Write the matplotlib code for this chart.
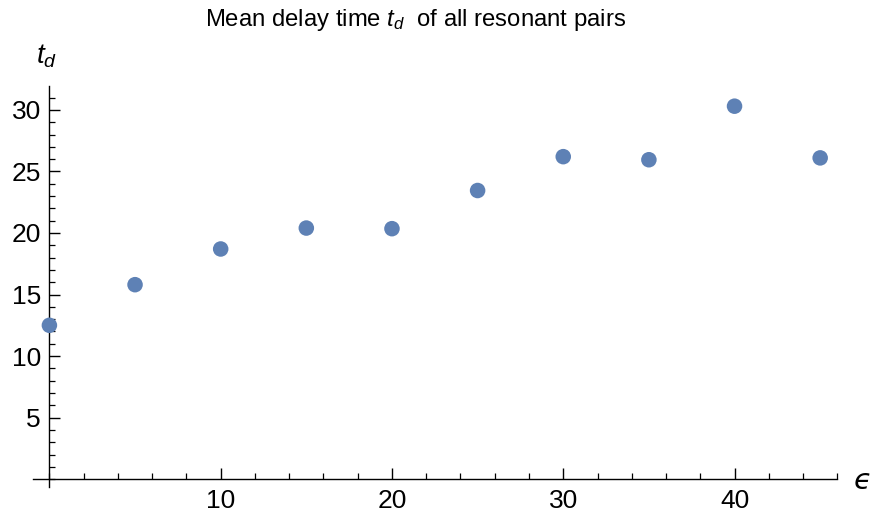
import matplotlib
matplotlib.use("Agg")
import matplotlib.pyplot as plt
from matplotlib.ticker import MultipleLocator

plt.rcParams['font.family'] = ['Liberation Sans', 'DejaVu Sans']
plt.rcParams['mathtext.fontset'] = 'custom'
plt.rcParams['mathtext.rm'] = 'Liberation Sans'
plt.rcParams['mathtext.it'] = 'Liberation Sans:italic'

# coupling strength and mean delay time
epsilon = [0, 5, 10, 15, 20, 25, 30, 35, 40, 45]
t_delay = [12.5, 15.8, 18.7, 20.4, 20.35, 23.45, 26.2, 25.95, 30.3, 26.1]

W, H = 873, 522
fig = plt.figure(figsize=(W / 100, H / 100), dpi=100)

# axes box in pixels: left, right, top, bottom
px_l, px_r, px_t, px_b = 33.3, 837.3, 86.0, 487.3
ax = fig.add_axes([px_l / W, (H - px_b) / H, (px_r - px_l) / W, (px_b - px_t) / H])
ax.set_xlim(-0.94, 46.0)
ax.set_ylim(-0.66, 31.94)

ax.scatter(epsilon, t_delay, s=125, color='#5E81B5', edgecolors='none', zorder=3, clip_on=False)

for side in ('top', 'right'):
    ax.spines[side].set_visible(False)
ax.spines['left'].set_position(('data', 0))
ax.spines['bottom'].set_position(('data', 0))
for side in ('left', 'bottom'):
    ax.spines[side].set_linewidth(1.0)
    ax.spines[side].set_color('black')

ax.xaxis.set_minor_locator(MultipleLocator(2))
ax.yaxis.set_minor_locator(MultipleLocator(1))
ax.set_xticks([10, 20, 30, 40])
ax.set_yticks([5, 10, 15, 20, 25, 30])
ax.tick_params(which='major', direction='in', length=8, width=1.0, labelsize=19, pad=7, colors='black')
ax.tick_params(which='minor', direction='in', length=4.5, width=0.9, colors='black')
ax.tick_params(axis='y', which='major', pad=6)

fig.text(416 / W, 1 - 20 / H, r'Mean delay time $t_d$  of all resonant pairs',
         ha='center', va='center', fontsize=17.2)
fig.text(47 / W, 1 - 56 / H, r'$t_d$', ha='center', va='center', fontsize=20)
fig.text(862 / W, 1 - 481 / H, '\u03f5', ha='center', va='center', fontsize=21,
         style='italic', family=['DejaVu Sans'])

fig.savefig('out.png', dpi=100)
